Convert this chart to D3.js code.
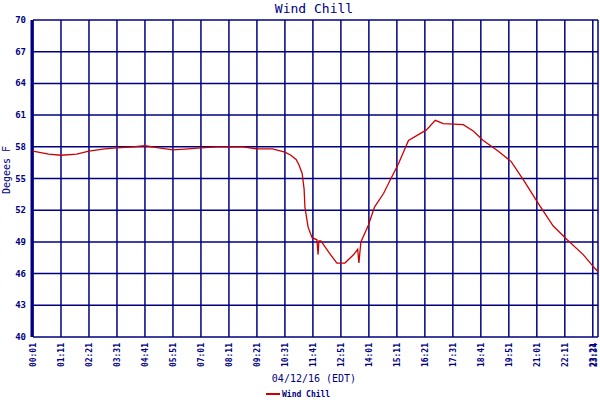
<!DOCTYPE html><html><head><meta charset="utf-8"><script src="https://cdn.jsdelivr.net/npm/d3@7"></script>
<style>body{margin:0;background:#fff}text{font-family:"DejaVu Sans Mono",monospace;fill:#000080}</style></head><body><svg id="c" width="600" height="400"></svg><script>
const times=["00:01","00:40","01:11","01:50","02:21","03:00","03:31","04:10","04:41","05:15","05:51","06:30","07:01","07:40","08:11","08:45","09:21","10:00","10:31","10:46","10:59","11:06","11:14","11:19","11:21","11:29","11:39","11:51","11:54","11:56","12:01","12:21","12:41","13:01","13:23","13:33","13:36","13:41","14:00","14:15","14:38","14:55","15:15","15:40","16:25","16:47","17:07","17:57","18:22","18:47","19:24","19:57","20:27","21:07","21:42","22:17","22:57","23:26","23:34"];
const windChill=[57.6,57.3,57.2,57.3,57.6,57.8,57.9,58.0,58.1,57.9,57.7,57.8,57.9,58.0,58.0,58.0,57.8,57.8,57.5,57.2,56.8,56.3,55.5,54.0,52.3,50.4,49.4,49.2,47.8,49.1,49.1,48.0,47.0,47.0,47.8,48.3,47.0,49.0,50.6,52.3,53.6,54.9,56.4,58.6,59.6,60.5,60.2,60.1,59.5,58.6,57.6,56.6,54.9,52.5,50.5,49.2,47.8,46.5,46.2];
const xTicks=["00:01","01:11","02:21","03:31","04:41","05:51","07:01","08:11","09:21","10:31","11:41","12:51","14:01","15:11","16:21","17:31","18:41","19:51","21:01","22:11","23:21","23:34"];
const yTicks=[40,43,46,49,52,55,58,61,64,67,70];
const m=s=>{const[a,b]=s.split(":").map(Number);return a*60+b;};
const svg=d3.select("#c");
const x=d3.scaleLinear().domain([m("00:01"),m("23:34")]).range([33,598]);
const y=d3.scaleLinear().domain([40,70]).range([337,20]);
const g=svg.append("g");
g.selectAll(".h").data(yTicks).join("line").attr("x1",33).attr("x2",598).attr("y1",d=>y(d)).attr("y2",d=>y(d)).attr("stroke","#000080").attr("stroke-width",1.5);
g.selectAll(".v").data(xTicks).join("line").attr("x1",d=>x(m(d))).attr("x2",d=>x(m(d))).attr("y1",20).attr("y2",337).attr("stroke","#000080").attr("stroke-width",1.5);
g.append("line").attr("x1",32).attr("x2",32).attr("y1",20).attr("y2",337).attr("stroke","#000080").attr("stroke-width",3);
g.selectAll(".yl").data(yTicks).join("text").attr("x",26).attr("y",d=>y(d)+3).attr("text-anchor","end").attr("font-size",9).attr("font-weight","bold").text(d=>d);
g.selectAll(".xl").data(xTicks).join("text").attr("transform",d=>`translate(${Math.min(x(m(d))+3,597)},343) rotate(-90)`).attr("text-anchor","end").attr("font-size",8).attr("font-weight","bold").text(d=>d);
svg.append("path").datum(times.map((t,i)=>[m(t),windChill[i]])).attr("d",d3.line().x(d=>x(d[0])).y(d=>y(d[1]))).attr("fill","none").attr("stroke","#cc0000").attr("stroke-width",1.3);
svg.append("text").attr("x",314).attr("y",13).attr("text-anchor","middle").attr("font-size",13).text("Wind Chill");
svg.append("text").attr("transform","translate(10,170) rotate(-90)").attr("text-anchor","middle").attr("font-size",10).text("Degees F");
svg.append("text").attr("x",314).attr("y",382).attr("text-anchor","middle").attr("font-size",10).text("04/12/16 (EDT)");
svg.append("line").attr("x1",266).attr("x2",280).attr("y1",394).attr("y2",394).attr("stroke","#cc0000").attr("stroke-width",2);
svg.append("text").attr("x",282).attr("y",397).attr("font-size",8).attr("font-weight","bold").text("Wind Chill");
</script></body></html>
